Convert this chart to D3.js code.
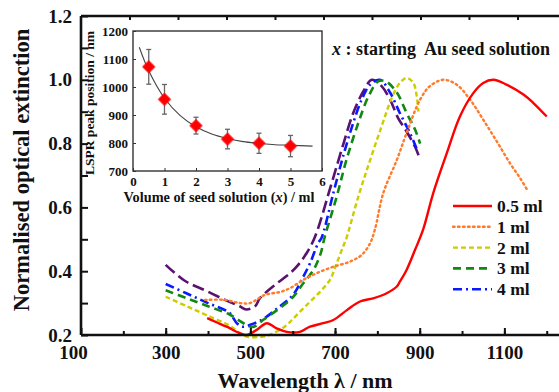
<!DOCTYPE html>
<html>
<head>
<meta charset="utf-8">
<script src="https://cdn.jsdelivr.net/npm/d3@7"></script>
<style>
  html, body { margin: 0; padding: 0; background: #fff; }
  svg { display: block; font-family: "Liberation Serif", "Times New Roman", serif; font-weight: bold; }
</style>
</head>
<body>
<svg id="chart" width="559" height="392"></svg>
<script>
// Extinction spectra, one pair of arrays per seed volume (wavelength in nm, normalised extinction)
const nm05 = [398, 420, 444, 476, 491, 515, 539, 562, 586, 617, 641, 672, 696, 728, 759, 790, 822, 846, 853, 869, 889, 908, 932, 964, 995, 1027, 1050, 1074, 1105, 1145, 1168, 1200];
const ext05 = [0.253, 0.240, 0.226, 0.205, 0.200, 0.216, 0.237, 0.221, 0.210, 0.210, 0.226, 0.237, 0.247, 0.278, 0.305, 0.315, 0.331, 0.352, 0.367, 0.404, 0.467, 0.530, 0.645, 0.770, 0.885, 0.959, 0.990, 1.000, 0.985, 0.954, 0.928, 0.885];

const nm1 = [393, 440, 476, 499, 535, 570, 594, 625, 657, 696, 735, 763, 783, 794, 814, 846, 869, 901, 924, 956, 987, 1019, 1050, 1082, 1113, 1137, 1156];
const ext1 = [0.310, 0.310, 0.300, 0.300, 0.326, 0.335, 0.347, 0.373, 0.394, 0.414, 0.430, 0.451, 0.488, 0.530, 0.645, 0.749, 0.833, 0.938, 0.980, 1.000, 0.985, 0.938, 0.875, 0.807, 0.739, 0.692, 0.650];

const nm2 = [300, 350, 400, 450, 476, 491, 530, 554, 586, 598, 633, 665, 688, 704, 719, 727, 755, 783, 810, 834, 853, 869, 885, 893, 897];
const ext2 = [0.320, 0.290, 0.260, 0.230, 0.206, 0.195, 0.195, 0.205, 0.231, 0.247, 0.294, 0.336, 0.373, 0.425, 0.477, 0.504, 0.634, 0.749, 0.854, 0.943, 0.990, 1.006, 0.990, 0.948, 0.900];

const nm3 = [300, 350, 400, 450, 480, 505, 530, 565, 598, 625, 649, 665, 676, 704, 727, 755, 779, 802, 820, 846, 869, 889, 901];
const ext3 = [0.340, 0.315, 0.290, 0.265, 0.240, 0.225, 0.247, 0.280, 0.315, 0.362, 0.404, 0.451, 0.509, 0.634, 0.749, 0.865, 0.948, 0.995, 0.995, 0.960, 0.896, 0.844, 0.800];

const nm4 = [300, 350, 400, 450, 468, 483, 500, 530, 565, 601, 625, 641, 660, 668, 696, 719, 743, 763, 783, 806, 830, 853, 877, 894];
const ext4 = [0.360, 0.330, 0.300, 0.270, 0.237, 0.226, 0.232, 0.250, 0.285, 0.326, 0.383, 0.425, 0.488, 0.504, 0.645, 0.760, 0.865, 0.938, 0.985, 1.000, 0.960, 0.896, 0.833, 0.780];

const nm5 = [300, 345, 393, 440, 475, 490, 511, 523, 558, 594, 613, 633, 653, 692, 720, 743, 767, 787, 810, 830, 849, 869, 889, 901];
const ext5 = [0.420, 0.370, 0.340, 0.310, 0.290, 0.280, 0.290, 0.316, 0.357, 0.394, 0.420, 0.457, 0.509, 0.676, 0.800, 0.896, 0.964, 1.000, 0.980, 0.938, 0.880, 0.838, 0.790, 0.750];

const legendLabels = ["0.5 ml", "1 ml", "2 ml", "3 ml", "4 ml"];

// Axis ticks
const xMajorTicks = [100, 300, 500, 700, 900, 1100];
const xMinorTicks = [200, 300, 400, 500, 600, 700, 800, 900, 1000, 1100, 1200];
const yMajorTicks = [0.2, 0.4, 0.6, 0.8, 1.0, 1.2];
const yMinorTicks = [0.3, 0.5, 0.7, 0.9, 1.1];
const topTicks = [1, 2, 3, 4, 5, 6, 7, 8, 9];

// Inset: LSPR peak position vs. seed volume
const seedVol = [0.5, 1, 2, 3, 4, 5];
const peakPos = [1072, 956, 862, 814, 799, 789];
const peakErr = [62, 53, 30, 35, 36, 38];
const fitVol = [0.2, 0.5, 1, 1.5, 2, 2.5, 3, 3.5, 4, 4.5, 5, 5.7];
const fitPos = [1142, 1058, 960, 898, 858, 832, 816, 805, 799, 794, 792, 789];
const insetXTicks = [0, 1, 2, 3, 4, 5, 6];
const insetYTicks = [700, 800, 900, 1000, 1100, 1200];

const svg = d3.select("#chart");

const x = d3.scaleLinear().domain([100, 1229]).range([81, 559]);
const y = d3.scaleLinear().domain([0.2, 1.2]).range([335, 16]);
const xTop = d3.scaleLinear().domain([0, 9.856]).range([81, 559]);

const series = [
  { nm: nm05, v: ext05, color: "#ff0000", dash: null, width: 2.4 },
  { nm: nm1, v: ext1, color: "#ff7a2a", dash: "1.6,3.4", width: 2.4, cap: "round" },
  { nm: nm2, v: ext2, color: "#cccc00", dash: "5,3", width: 2.4 },
  { nm: nm3, v: ext3, color: "#118811", dash: "8,5", width: 2.6 },
  { nm: nm4, v: ext4, color: "#0a1aff", dash: "9,4,2,4", width: 2.6 },
  { nm: nm5, v: ext5, color: "#5a1270", dash: "12,5", width: 2.6 }
];

// Spectra
const line = d3.line().curve(d3.curveCatmullRom.alpha(0.5));
series.slice().reverse().forEach(s => {
  const pts = s.nm.map((w, i) => [x(w), y(s.v[i])]);
  svg.append("path")
    .attr("d", line(pts))
    .attr("fill", "none")
    .attr("stroke", s.color)
    .attr("stroke-width", s.width)
    .attr("stroke-dasharray", s.dash)
    .attr("stroke-linecap", s.cap || "butt");
});

// Axes
const axisFont = g => g.selectAll("text")
  .attr("font-family", "Liberation Serif, Times New Roman, serif")
  .attr("font-weight", "bold").attr("fill", "#111");

const gx = svg.append("g").attr("transform", "translate(0,335)");
gx.call(d3.axisBottom(x).tickValues(xMinorTicks).tickSize(-4).tickFormat(""));
gx.call(g => g.select(".domain").remove());
const gxMaj = svg.append("g").attr("transform", "translate(0,335)");
gxMaj.call(d3.axisBottom(x).tickValues(xMajorTicks).tickSize(-7).tickPadding(11).tickFormat(d3.format("d")))
  .call(axisFont)
  .call(g => g.selectAll("text").attr("font-size", 19).attr("dy", "0.71em"))
  .call(g => g.select(".domain").attr("d", "M81,0H559"));

const gy = svg.append("g").attr("transform", "translate(81,0)");
gy.call(d3.axisLeft(y).tickValues(yMinorTicks).tickSize(-7).tickFormat(""));
gy.call(g => g.select(".domain").remove());
const gyMaj = svg.append("g").attr("transform", "translate(81,0)");
gyMaj.call(d3.axisLeft(y).tickValues(yMajorTicks).tickSize(-7).tickPadding(9).tickFormat(d3.format(".1f")))
  .call(axisFont)
  .call(g => g.selectAll("text").attr("font-size", 19))
  .call(g => g.select(".domain").attr("d", "M0,16V335"));

const gt = svg.append("g").attr("transform", "translate(0,16)");
gt.call(d3.axisTop(xTop).tickValues(topTicks).tickSize(-4).tickFormat(""))
  .call(g => g.select(".domain").attr("d", "M81,0H559"));

svg.selectAll(".tick line").attr("stroke", "#111").attr("stroke-width", 2);
svg.selectAll(".domain").attr("stroke", "#111").attr("stroke-width", 2.6);

// "100" sits a little left of the origin
gxMaj.selectAll(".tick text").filter(d => d === 100).attr("dx", -8);

// Axis titles
svg.append("text")
  .attr("transform", "translate(29,170) rotate(-90)")
  .attr("text-anchor", "middle")
  .attr("font-size", 22.5)
  .attr("fill", "#111")
  .text("Normalised optical extinction");

svg.append("text")
  .attr("x", 305).attr("y", 388)
  .attr("text-anchor", "middle")
  .attr("font-size", 22)
  .attr("fill", "#111")
  .text("Wavelength λ / nm");

// Annotation
const note = svg.append("text").attr("x", 332).attr("y", 55).attr("font-size", 18).attr("fill", "#111");
note.append("tspan").attr("font-style", "italic").text("x");
note.append("tspan").attr("xml:space", "preserve").text(" : starting  Au seed solution");

// Legend
const lg = svg.append("g");
legendLabels.forEach((lab, i) => {
  const s = series[i];
  const ly = 206 + i * 20.8;
  lg.append("line")
    .attr("x1", 453).attr("x2", 492).attr("y1", ly).attr("y2", ly)
    .attr("stroke", s.color).attr("stroke-width", s.width)
    .attr("stroke-dasharray", s.dash).attr("stroke-linecap", s.cap || "butt");
  lg.append("text")
    .attr("x", 497).attr("y", ly + 6)
    .attr("font-size", 17.5).attr("fill", "#111")
    .text(lab);
});

// Inset
const ix = d3.scaleLinear().domain([0, 6]).range([133, 322]);
const iy = d3.scaleLinear().domain([700, 1200]).range([171, 31]);
const inset = svg.append("g");

inset.append("rect")
  .attr("x", 133).attr("y", 31).attr("width", 189).attr("height", 140)
  .attr("fill", "#fff").attr("stroke", "#333").attr("stroke-width", 1.4);

const insetFont = g => g.selectAll("text").attr("font-size", 13).attr("font-weight", "bold")
  .attr("font-family", "Liberation Serif, serif").attr("fill", "#111");
inset.append("g").attr("transform", "translate(0,171)")
  .call(d3.axisBottom(ix).tickValues(insetXTicks).tickSize(-3).tickPadding(6).tickFormat(d3.format("d")))
  .call(g => g.select(".domain").remove())
  .call(insetFont);
inset.append("g").attr("transform", "translate(133,0)")
  .call(d3.axisLeft(iy).tickValues(insetYTicks).tickSize(-3).tickPadding(5).tickFormat(d3.format("d")))
  .call(g => g.select(".domain").remove())
  .call(insetFont);
inset.selectAll(".tick line").attr("stroke", "#333").attr("stroke-width", 1);

inset.append("text")
  .attr("transform", "translate(94,103) rotate(-90)")
  .attr("text-anchor", "middle").attr("font-size", 13.5).attr("fill", "#111")
  .text("LSPR peak position / nm");

const ixl = inset.append("text")
  .attr("x", 219).attr("y", 202)
  .attr("text-anchor", "middle").attr("font-size", 14.3).attr("fill", "#111");
ixl.append("tspan").text("Volume of seed solution (");
ixl.append("tspan").attr("font-style", "italic").text("x");
ixl.append("tspan").text(") / ml");

// Fitted decay curve
inset.append("path")
  .attr("d", d3.line().curve(d3.curveCatmullRom.alpha(0.5))(fitVol.map((v, i) => [ix(v), iy(fitPos[i])])))
  .attr("fill", "none").attr("stroke", "#444").attr("stroke-width", 1.1);

// Error bars
const eb = inset.append("g").attr("stroke", "#666").attr("stroke-width", 1.3);
seedVol.forEach((v, i) => {
  const cx = ix(v), top = iy(peakPos[i] + peakErr[i]), bot = iy(peakPos[i] - peakErr[i]);
  eb.append("line").attr("x1", cx).attr("x2", cx).attr("y1", top).attr("y2", bot);
  eb.append("line").attr("x1", cx - 2.5).attr("x2", cx + 2.5).attr("y1", top).attr("y2", top);
  eb.append("line").attr("x1", cx - 2.5).attr("x2", cx + 2.5).attr("y1", bot).attr("y2", bot);
});

// Markers
const defs = svg.append("defs");
defs.append("filter").attr("id", "soft").append("feGaussianBlur").attr("stdDeviation", 0.6);
inset.append("g").selectAll("path").data(seedVol).join("path")
  .attr("d", d3.symbol(d3.symbolSquare, 88)())
  .attr("transform", (v, i) => `translate(${ix(v)},${iy(peakPos[i])}) rotate(45)`)
  .attr("fill", "#ff0000")
  .attr("filter", "url(#soft)");
</script>
</body>
</html>
